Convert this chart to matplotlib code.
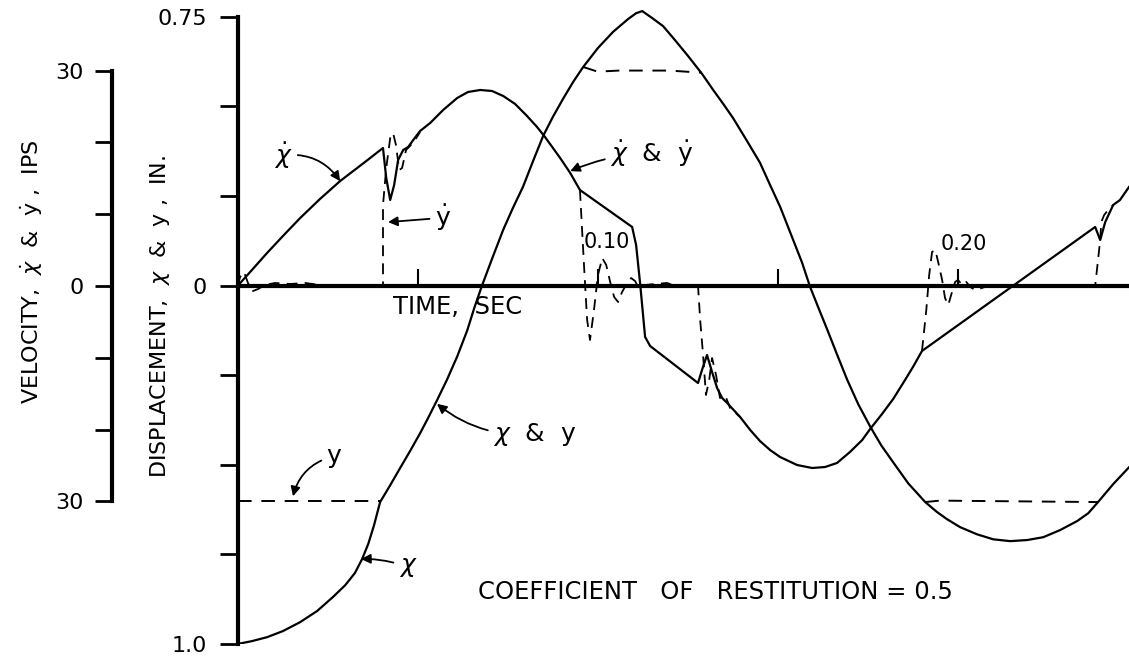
import numpy as np
import matplotlib.pyplot as plt

plt.rcParams['font.family'] = ['DejaVu Sans']
plt.rcParams['mathtext.fontset'] = 'dejavusans'

# displacement x (solid), inches vs time, sec
disp_t = [0.0, 0.0040, 0.0082, 0.0126, 0.0174, 0.0221, 0.0265, 0.0299, 0.0326, 0.0346,
          0.0363, 0.0379, 0.0396, 0.0424, 0.0451, 0.0479, 0.0507, 0.0529, 0.0554, 0.0582,
          0.0610, 0.0638, 0.0657, 0.0679, 0.0707, 0.0738, 0.0765, 0.0793, 0.0821, 0.0849,
          0.0876, 0.0904, 0.0932, 0.0960, 0.1001, 0.1043, 0.1085, 0.1107, 0.1124, 0.1151,
          0.1182, 0.1215, 0.1251, 0.1290, 0.1321, 0.1349, 0.1376, 0.1413, 0.1451, 0.1479,
          0.1507, 0.1543, 0.1568, 0.1590, 0.1613, 0.1638, 0.1665, 0.1693, 0.1724, 0.1757,
          0.1788, 0.1821, 0.1863, 0.1910, 0.1943, 0.1971, 0.2007, 0.2054, 0.2099, 0.2146,
          0.2193, 0.2238, 0.2285, 0.2332, 0.2363, 0.2390, 0.2432, 0.2476]
disp_x = [-1.0, -0.992, -0.981, -0.964, -0.939, -0.908, -0.869, -0.836, -0.802, -0.763,
          -0.721, -0.669, -0.604, -0.557, -0.510, -0.462, -0.412, -0.370, -0.320, -0.262,
          -0.198, -0.125, -0.064, 0.0, 0.075, 0.156, 0.217, 0.276, 0.348, 0.418,
          0.471, 0.521, 0.568, 0.610, 0.663, 0.708, 0.744, 0.760, 0.766, 0.747,
          0.724, 0.685, 0.641, 0.591, 0.546, 0.507, 0.468, 0.407, 0.343, 0.281,
          0.220, 0.128, 0.064, -0.003, -0.061, -0.123, -0.192, -0.262, -0.331, -0.393,
          -0.446, -0.493, -0.552, -0.604, -0.632, -0.652, -0.674, -0.694, -0.708, -0.713,
          -0.710, -0.702, -0.682, -0.657, -0.635, -0.604, -0.554, -0.507]

# displacement y (dashed) where it leaves x
ydisp_t1 = [0.0, 0.0396]
ydisp_1 = [-0.600, -0.600]
ydisp_t2 = [0.0960, 0.1000, 0.1060, 0.1200, 0.1290]
ydisp_2 = [0.610, 0.597, 0.600, 0.600, 0.594]
ydisp_t3 = [0.1910, 0.1950, 0.2390]
ydisp_3 = [-0.604, -0.600, -0.604]

# velocity xdot (solid), IPS
vel_t = [0.0, 0.0040, 0.0082, 0.0126, 0.0174, 0.0229, 0.0285, 0.0354, 0.0404, 0.0413,
         0.0424, 0.0435, 0.0446, 0.0460, 0.0474, 0.0488, 0.0507, 0.0535, 0.0571, 0.0610,
         0.0640, 0.0674, 0.0707, 0.0738, 0.0771, 0.0804, 0.0832, 0.0854, 0.0876, 0.0896,
         0.0924, 0.0951, 0.1096, 0.1107, 0.1118, 0.1132, 0.1146, 0.1279, 0.1290, 0.1304,
         0.1318, 0.1332, 0.1346, 0.1360, 0.1396, 0.1424, 0.1451, 0.1479, 0.1507, 0.1554,
         0.1596, 0.1632, 0.1665, 0.1701, 0.1735, 0.1757, 0.1790, 0.1821, 0.1854, 0.1876,
         0.1901, 0.2382, 0.2396, 0.2410, 0.2432, 0.2451, 0.2476]
vel_x = [0.0, 2.23, 4.60, 6.96, 9.47, 12.12, 14.62, 17.27, 19.22, 15.04,
         11.98, 14.07, 17.55, 18.94, 19.36, 20.33, 21.59, 22.70, 24.51, 26.18,
         27.02, 27.30, 27.16, 26.46, 25.35, 23.68, 22.14, 20.75, 19.22, 17.83,
         15.74, 13.37, 8.22, 5.71, 0.42, -7.10, -8.36, -13.51, -11.70, -9.61,
         -11.98, -14.21, -15.60, -16.30, -18.25, -20.06, -21.59, -22.84, -23.82, -24.93,
         -25.35, -25.21, -24.65, -23.12, -21.45, -19.92, -17.83, -15.74, -13.09, -11.28,
         -9.05, 8.22, 6.41, 8.91, 11.28, 11.98, 13.79]

# velocity ydot (dashed) where it leaves xdot
ydot_t1 = [0.0, 0.0007, 0.0018, 0.0029, 0.0043, 0.0057, 0.0076, 0.0104, 0.0146, 0.0188,
           0.0229, 0.0404, 0.0404, 0.0413, 0.0424, 0.0432, 0.0440, 0.0449, 0.0457, 0.0468,
           0.0479, 0.0493, 0.0507]
ydot_1 = [0.0, 1.25, 1.95, 0.42, -0.70, -0.42, 0.14, 0.42, 0.28, 0.42,
          0.14, 0.0, 11.28, 16.43, 20.61, 21.31, 19.64, 16.16, 16.43, 18.94,
          19.50, 20.33, 21.45]
ydot_t2 = [0.0951, 0.0963, 0.0971, 0.0979, 0.0990, 0.1001, 0.1013, 0.1024, 0.1035, 0.1046,
           0.1057, 0.1068, 0.1082, 0.1093, 0.1104, 0.1113, 0.1132, 0.1160, 0.1193, 0.1215,
           0.1279, 0.1285, 0.1293, 0.1301, 0.1310, 0.1318, 0.1329, 0.1340, 0.1354, 0.1368,
           0.1396]
ydot_2 = [13.37, 2.23, -4.74, -7.52, -3.34, 1.53, 3.90, 2.92, 0.56, -1.53,
          -2.23, -0.84, 0.42, 1.11, 0.70, -0.14, 0.14, 0.28, 0.42, 0.0,
          0.0, -4.74, -9.61, -15.18, -13.09, -10.03, -12.40, -15.60, -15.18, -16.99,
          -18.25]
ydot_t3 = [0.1901, 0.1913, 0.1921, 0.1929, 0.1938, 0.1946, 0.1957, 0.1965, 0.1974, 0.1982,
           0.1993, 0.2001, 0.2013, 0.2024, 0.2035, 0.2049, 0.2076, 0.2104, 0.2382, 0.2390,
           0.2396, 0.2399, 0.2407, 0.2418, 0.2432]
ydot_3 = [-9.05, -3.34, 1.53, 4.74, 5.01, 3.34, 0.84, -1.67, -2.65, -1.25,
          0.56, 0.84, 0.14, 0.56, -0.14, -0.56, -0.14, 0.0, 0.0, 3.62,
          6.41, 8.91, 9.89, 10.58, 11.28]

disp_ticks = [-1.0, -0.75, -0.5, -0.25, 0.0, 0.25, 0.5, 0.75]
disp_ticklabels = ['1.0', '', '', '', '0', '', '', '0.75']
vel_ticks = [-30, -20, -10, 0, 10, 20, 30]
vel_ticklabels = ['30', '', '', '0', '', '', '30']
time_ticks = [0.05, 0.10, 0.15, 0.20]

fig = plt.figure(figsize=(11.29, 6.58), dpi=100)
ax = fig.add_axes([0.2104, 0.0213, 0.7896, 0.9635])
ax.set_xlim(0, 0.2476)
ax.set_ylim(-1.0, 0.769)

ax2 = ax.twinx()
ax2.set_ylim(-49.86, 38.44)

lw_curve = 1.6
ax.plot(disp_t, disp_x, color='k', lw=lw_curve, zorder=3)
for tt, yy in [(ydisp_t1, ydisp_1), (ydisp_t2, ydisp_2), (ydisp_t3, ydisp_3)]:
    ax.plot(tt, yy, color='k', lw=1.4, dashes=(7, 5), zorder=3)

ax2.plot(vel_t, vel_x, color='k', lw=lw_curve, zorder=3)
for tt, vv in [(ydot_t1, ydot_1), (ydot_t2, ydot_2), (ydot_t3, ydot_3)]:
    ax2.plot(tt, vv, color='k', lw=1.3, dashes=(6, 4), zorder=3)

# displacement axis
for s in ['top', 'right']:
    ax.spines[s].set_visible(False)
ax.spines['left'].set_linewidth(3)
ax.spines['left'].set_bounds(-1.0, 0.75)
ax.spines['bottom'].set_position(('data', 0))
ax.spines['bottom'].set_linewidth(3)
ax.set_yticks(disp_ticks)
ax.set_yticklabels(disp_ticklabels)
ax.tick_params(axis='y', direction='out', length=13, width=2, pad=9, labelsize=16)
ax.set_xticks(time_ticks)
ax.set_xticklabels([])
ax.tick_params(axis='x', direction='in', length=12, width=1.5)

# velocity axis, offset to the left
for s in ['top', 'right', 'bottom']:
    ax2.spines[s].set_visible(False)
ax2.spines['left'].set_visible(True)
ax2.spines['left'].set_position(('axes', -0.1403))
ax2.spines['left'].set_linewidth(3)
ax2.spines['left'].set_bounds(-30, 30)
ax2.yaxis.set_ticks_position('left')
ax2.set_yticks(vel_ticks)
ax2.set_yticklabels(vel_ticklabels)
ax2.tick_params(axis='y', direction='out', length=12, width=2, pad=9, labelsize=16)

fig.text(0.0275, 0.5866, r'VELOCITY,  $\dot{\chi}$  &  $\dot{\mathrm{y}}$ ,  IPS',
         rotation=90, ha='center', va='center', fontsize=16)
fig.text(0.1417, 0.5198, r'DISPLACEMENT,  $\chi$  &  y ,  IN.',
         rotation=90, ha='center', va='center', fontsize=16)

ax.text(0.0432, -0.0585, 'TIME,  SEC', ha='left', va='center', fontsize=17.5)
ax.text(0.1025, 0.1226, '0.10', ha='center', va='center', fontsize=15)
ax.text(0.2018, 0.117, '0.20', ha='center', va='center', fontsize=15)
ax.text(0.0668, -0.855, 'COEFFICIENT   OF   RESTITUTION = 0.5', ha='left', va='center',
        fontsize=17.5)

arrow = dict(arrowstyle='-|>', color='k', lw=1.3, mutation_scale=14, shrinkA=2, shrinkB=0)
ax2.annotate(r'$\dot{\chi}$', xy=(0.0285, 14.6), xytext=(0.0126, 18.2), fontsize=18,
             ha='center', va='center',
             arrowprops=dict(arrow, connectionstyle='arc3,rad=-0.3'))
ax2.annotate(r'$\dot{\mathrm{y}}$', xy=(0.0418, 8.9), xytext=(0.0571, 9.5), fontsize=18,
             ha='center', va='center', arrowprops=dict(arrow))
ax2.annotate(r'$\dot{\chi}$  &  $\dot{\mathrm{y}}$', xy=(0.0924, 16.0), xytext=(0.1151, 18.5),
             fontsize=18, ha='center', va='center',
             arrowprops=dict(arrow, connectionstyle='arc3,rad=0.1'))
ax.annotate(r'$\chi$  &  y', xy=(0.0554, -0.330), xytext=(0.0826, -0.415), fontsize=18,
            ha='center', va='center',
            arrowprops=dict(arrow, connectionstyle='arc3,rad=-0.2'))
ax.annotate('y', xy=(0.0154, -0.588), xytext=(0.0268, -0.476), fontsize=18,
            ha='center', va='center',
            arrowprops=dict(arrow, connectionstyle='arc3,rad=0.3'))
ax.annotate(r'$\chi$', xy=(0.0343, -0.763), xytext=(0.0474, -0.786), fontsize=18,
            ha='center', va='center',
            arrowprops=dict(arrow, connectionstyle='arc3,rad=0.1'))

fig.savefig('out.png', dpi=100)
